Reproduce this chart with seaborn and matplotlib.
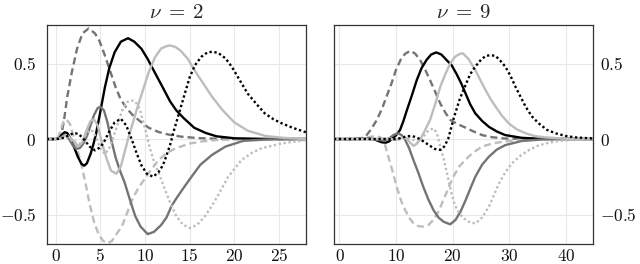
import matplotlib
matplotlib.use('Agg')
import matplotlib.pyplot as plt
import seaborn as sns

# nu = 2 panel, seven curves (n = 0..6)
n2_x0 = [-1, 0, 0.4, 0.6, 0.9, 1.3, 1.8, 2.4, 3.0, 3.7, 4.4, 4.9, 5.5, 6.1, 6.7, 7.3, 8.0, 8.6, 9.4, 10.4, 11.5, 12.6, 14, 16, 18, 21, 28]
n2_y0 = [0, 0, 0, 0.02, 0.11, 0.28, 0.44, 0.60, 0.70, 0.733, 0.70, 0.65, 0.555, 0.45, 0.345, 0.26, 0.2, 0.16, 0.12, 0.075, 0.047, 0.03, 0.016, 0.006, 0.002, 0, 0]
n2_x1 = [-1, 0, 0.3, 0.6, 0.9, 1.2, 1.6, 2.1, 2.6, 3.0, 3.4, 3.8, 4.3, 4.8, 5.3, 5.8, 6.3, 6.8, 7.4, 8.0, 8.5, 9.2, 10.0, 10.6, 11.5, 12.5, 13.5, 15, 16.5, 18, 21, 28]
n2_y1 = [0, 0, 0.01, 0.07, 0.12, 0.13, 0.10, 0.0, -0.11, -0.20, -0.31, -0.43, -0.55, -0.63, -0.675, -0.69, -0.675, -0.63, -0.58, -0.49, -0.41, -0.33, -0.26, -0.21, -0.14, -0.09, -0.06, -0.03, -0.015, -0.007, -0.002, 0]
n2_x2 = [-1, 0, 0.4, 0.7, 1.0, 1.3, 1.7, 2.1, 2.5, 2.9, 3.2, 3.5, 3.9, 4.2, 4.5, 4.9, 5.5, 6.0, 6.6, 7.3, 8.1, 8.8, 9.6, 10.3, 11.1, 12.0, 12.8, 13.5, 14.3, 15.5, 16.8, 18, 20, 23, 28]
n2_y2 = [0, 0, 0.005, 0.03, 0.045, 0.04, 0.0, -0.06, -0.12, -0.165, -0.177, -0.16, -0.10, -0.04, 0.03, 0.15, 0.34, 0.47, 0.575, 0.645, 0.668, 0.645, 0.598, 0.53, 0.44, 0.34, 0.25, 0.19, 0.14, 0.075, 0.04, 0.018, 0.005, 0.001, 0]
n2_x3 = [-1, 0, 0.5, 0.9, 1.2, 1.5, 1.9, 2.3, 2.7, 3.1, 3.5, 3.9, 4.3, 4.7, 5.0, 5.4, 5.8, 6.2, 6.7, 7.2, 7.7, 8.3, 8.9, 9.5, 10.3, 11.0, 11.8, 12.4, 13.0, 13.6, 14.3, 15.2, 16.2, 17.5, 19, 21, 24, 28]
n2_y3 = [0, 0, 0.005, 0.025, 0.02, 0.0, -0.04, -0.065, -0.06, -0.03, 0.02, 0.09, 0.16, 0.205, 0.213, 0.19, 0.11, 0.0, -0.12, -0.21, -0.285, -0.40, -0.51, -0.58, -0.63, -0.615, -0.57, -0.52, -0.44, -0.385, -0.325, -0.25, -0.17, -0.105, -0.05, -0.012, -0.002, 0]
n2_x4 = [-1, 0, 0.6, 1.0, 1.4, 1.8, 2.2, 2.6, 3.0, 3.4, 3.9, 4.3, 4.7, 5.2, 5.7, 6.2, 6.8, 7.3, 7.7, 8.1, 8.6, 9.2, 9.8, 10.4, 11.1, 11.8, 12.4, 12.8, 13.4, 14.0, 14.8, 15.6, 16.5, 17.5, 18.7, 20, 21.5, 23.5, 25.5, 28]
n2_y4 = [0, 0, 0.005, 0.02, 0.02, 0.0, -0.03, -0.045, -0.02, 0.05, 0.12, 0.13, 0.09, -0.03, -0.13, -0.21, -0.23, -0.18, -0.09, 0.0, 0.1, 0.22, 0.33, 0.44, 0.54, 0.60, 0.615, 0.62, 0.61, 0.585, 0.53, 0.45, 0.37, 0.28, 0.19, 0.11, 0.055, 0.02, 0.008, 0]
n2_x5 = [-1, 0, 0.6, 1.0, 1.4, 1.8, 2.2, 2.6, 3.0, 3.4, 3.8, 4.2, 4.6, 5.0, 5.5, 6.0, 6.5, 7.0, 7.5, 8.0, 8.5, 8.9, 9.4, 10.0, 10.5, 11.0, 11.6, 12.2, 12.8, 13.5, 14.2, 15.0, 15.8, 16.6, 17.4, 18.2, 19.3, 20.8, 22, 23, 25.3, 28]
n2_y5 = [0, 0, 0.005, 0.015, 0.01, -0.01, -0.03, -0.035, -0.01, 0.03, 0.06, 0.05, 0.0, -0.06, -0.10, -0.06, 0.02, 0.11, 0.2, 0.245, 0.255, 0.25, 0.2, 0.07, -0.05, -0.15, -0.235, -0.33, -0.42, -0.51, -0.565, -0.59, -0.57, -0.52, -0.45, -0.37, -0.25, -0.139, -0.09, -0.062, -0.029, -0.007]
n2_x6 = [-1, 0, 0.5, 1.0, 1.5, 2.0, 2.5, 3.0, 3.4, 3.8, 4.4, 5.0, 5.5, 6.0, 6.6, 7.3, 7.9, 8.5, 9.1, 9.6, 10.2, 10.9, 11.5, 12.0, 12.4, 12.8, 13.3, 13.9, 14.5, 15.0, 15.6, 16.3, 17.0, 17.6, 18.2, 19.0, 19.7, 20.5, 21.5, 22.5, 23.4, 24.4, 25.3, 26.5, 28]
n2_y6 = [0, 0, 0.003, 0.01, 0.025, 0.04, 0.035, 0.01, -0.02, -0.05, -0.075, -0.055, -0.01, 0.05, 0.11, 0.134, 0.09, 0.0, -0.1, -0.174, -0.23, -0.25, -0.22, -0.174, -0.11, -0.04, 0.07, 0.19, 0.31, 0.41, 0.49, 0.545, 0.575, 0.578, 0.57, 0.535, 0.48, 0.40, 0.30, 0.23, 0.17, 0.13, 0.104, 0.075, 0.045]

# nu = 9 panel
n9_x0 = [-1, 0, 2, 3.5, 4.5, 5.5, 6.5, 7.5, 8.3, 9.2, 10.0, 10.8, 11.6, 12.5, 13.4, 14.3, 15.2, 16.0, 17.0, 17.8, 18.7, 19.6, 20.8, 22.3, 23.7, 25.2, 27, 29, 32, 36, 45]
n9_y0 = [0, 0, 0, 0.003, 0.012, 0.06, 0.12, 0.2, 0.28, 0.37, 0.46, 0.525, 0.565, 0.585, 0.565, 0.52, 0.455, 0.39, 0.305, 0.236, 0.175, 0.126, 0.1, 0.075, 0.05, 0.026, 0.012, 0.004, 0.001, 0, 0]
n9_x1 = [-1, 0, 3, 4.5, 5.5, 6.5, 7.3, 7.9, 8.5, 9.2, 10.1, 10.9, 11.6, 12.4, 13.1, 14.0, 14.8, 15.7, 16.6, 17.5, 18.4, 19.3, 20.1, 21.2, 22.8, 24.0, 25.2, 27, 28.8, 32, 36, 45]
n9_y1 = [0, 0, 0, 0.005, 0.015, 0.02, 0.01, -0.02, -0.1, -0.19, -0.316, -0.41, -0.47, -0.525, -0.56, -0.578, -0.58, -0.57, -0.536, -0.48, -0.40, -0.32, -0.25, -0.18, -0.117, -0.08, -0.05, -0.03, -0.018, -0.005, -0.001, 0]
n9_x2 = [-1, 0, 3, 5, 6, 6.8, 7.5, 8.2, 8.8, 9.4, 10.0, 10.7, 11.3, 11.9, 12.8, 13.65, 14.5, 15.4, 16.2, 17.1, 18.0, 19.0, 19.8, 20.7, 21.5, 22.3, 23.1, 24.0, 25.2, 26.4, 27.8, 29.3, 32.2, 36, 45]
n9_y2 = [0, 0, 0, 0.002, 0.0, -0.012, -0.022, -0.024, -0.015, 0.005, 0.025, 0.06, 0.12, 0.19, 0.29, 0.39, 0.47, 0.525, 0.56, 0.574, 0.56, 0.52, 0.49, 0.43, 0.37, 0.30, 0.23, 0.17, 0.12, 0.081, 0.05, 0.026, 0.008, 0.001, 0]
n9_x3 = [-1, 0, 4, 6, 7, 8, 8.8, 9.6, 10.4, 11.0, 11.6, 12.3, 13.06, 13.9, 14.8, 15.7, 16.6, 17.5, 18.4, 19.56, 20.5, 21.4, 22.3, 23.1, 24.0, 25.2, 26.4, 27.8, 29.3, 32.2, 35.7, 40, 45]
n9_y3 = [0, 0, 0, -0.002, -0.006, -0.01, 0.005, 0.028, 0.038, 0.025, -0.005, -0.06, -0.139, -0.22, -0.316, -0.40, -0.47, -0.52, -0.548, -0.565, -0.536, -0.48, -0.404, -0.33, -0.25, -0.17, -0.117, -0.07, -0.04, -0.013, -0.003, 0, 0]
n9_x4 = [-1, 0, 5, 7, 8, 9, 10, 11, 11.8, 12.5, 13.1, 13.7, 14.3, 15.0, 16.0, 16.9, 17.8, 18.7, 19.56, 20.4, 21.3, 21.8, 22.8, 24.0, 24.9, 25.8, 26.7, 27.6, 28.7, 29.9, 31.3, 32.9, 34.5, 36.4, 40, 45]
n9_y4 = [0, 0, 0, 0.001, 0.003, 0.0, -0.006, 0.01, 0.008, -0.025, -0.045, -0.03, 0.0, 0.05, 0.126, 0.23, 0.346, 0.43, 0.50, 0.545, 0.565, 0.568, 0.53, 0.457, 0.39, 0.325, 0.265, 0.214, 0.155, 0.104, 0.065, 0.038, 0.02, 0.011, 0.002, 0]
n9_x5 = [-1, 0, 6, 8, 9, 10, 11, 12, 12.8, 13.6, 14.4, 15.1, 15.8, 16.6, 17.2, 17.8, 18.4, 19.0, 19.8, 20.4, 21.3, 22.3, 23.2, 24.1, 25.2, 26.4, 27.3, 28.2, 29.3, 30.5, 32, 33.5, 35, 37, 39, 41.2, 45]
n9_y5 = [0, 0, 0, 0.002, 0.0, -0.006, 0.0, 0.012, 0.0, -0.02, -0.01, 0.03, 0.06, 0.07, 0.04, -0.05, -0.13, -0.227, -0.36, -0.44, -0.50, -0.536, -0.555, -0.558, -0.52, -0.448, -0.37, -0.293, -0.22, -0.16, -0.11, -0.073, -0.045, -0.024, -0.012, -0.005, 0]
n9_x6 = [-1, 0, 6, 8, 9, 10, 11, 11.8, 12.5, 13.3, 14.2, 15.0, 15.8, 16.8, 17.8, 18.5, 19.2, 20.2, 21.3, 22.3, 23.1, 24.0, 25.0, 25.8, 26.7, 27.6, 28.4, 29.3, 30.2, 31.1, 32.0, 32.9, 34.0, 35.2, 36.7, 38.2, 40, 41.7, 45]
n9_y6 = [0, 0, 0, 0.0, -0.002, 0.0, 0.008, 0.018, 0.02, 0.015, 0.0, -0.02, -0.04, -0.065, -0.072, -0.05, 0.0, 0.14, 0.27, 0.36, 0.43, 0.48, 0.525, 0.55, 0.556, 0.55, 0.52, 0.48, 0.42, 0.346, 0.28, 0.214, 0.15, 0.104, 0.06, 0.038, 0.02, 0.011, 0.003]

titles = [r'$\nu\;=\;2$', r'$\nu\;=\;9$']
xticks_left = [0, 5, 10, 15, 20, 25]
xticks_right = [0, 10, 20, 30, 40]
yticks = [-0.5, 0, 0.5]

# line styles for n = 0..6
dark, light = '#747474', '#bdbdbd'
dashed = (0, (3, 1.7))
dotted = (0, (1, 1.1))
styles = [(dark, dashed), (light, dashed), ('black', '-'), (dark, '-'),
          (light, '-'), (light, dotted), ('black', dotted)]

sns.set_theme(style='whitegrid')
plt.rcParams['mathtext.fontset'] = 'cm'
plt.rcParams['font.family'] = ['DejaVu Serif']

fig, axes = plt.subplots(1, 2, figsize=(6.4, 2.64), dpi=100)
fig.subplots_adjust(left=0.073, right=0.927, bottom=0.076, top=0.905, wspace=0.109)

panels = [
    (list(zip([n2_x0, n2_x1, n2_x2, n2_x3, n2_x4, n2_x5, n2_x6],
              [n2_y0, n2_y1, n2_y2, n2_y3, n2_y4, n2_y5, n2_y6])), (-1, 28), xticks_left),
    (list(zip([n9_x0, n9_x1, n9_x2, n9_x3, n9_x4, n9_x5, n9_x6],
              [n9_y0, n9_y1, n9_y2, n9_y3, n9_y4, n9_y5, n9_y6])), (-0.95, 44.85), xticks_right),
]

for i, (ax, (curves, xlim, xt)) in enumerate(zip(axes, panels)):
    for (xs, ys), (c, ls) in zip(curves, styles):
        sns.lineplot(x=xs, y=ys, ax=ax, color=c, linestyle=ls, linewidth=1.7,
                     estimator=None, sort=False)
    ax.set_xlim(*xlim)
    ax.set_ylim(-0.695, 0.755)
    ax.set_xticks(xt)
    ax.set_xticklabels([f'${v}$' for v in xt])
    ax.set_yticks(yticks)
    ax.set_yticklabels(['$-0.5$', '$0$', '$0.5$'])
    ax.tick_params(axis='both', length=0, labelsize=12.5, colors='#111111')
    ax.tick_params(axis='x', pad=3)
    ax.grid(color='#e8e8e8', linewidth=0.8)
    for s in ax.spines.values():
        s.set_color('#333333')
        s.set_linewidth(0.9)
    ax.set_title(titles[i], fontsize=15, pad=5)
    if i == 1:
        ax.yaxis.tick_right()
        ax.tick_params(axis='y', length=0, pad=5)
    else:
        ax.tick_params(axis='y', pad=7.5)

plt.savefig('out.png', dpi=100)
